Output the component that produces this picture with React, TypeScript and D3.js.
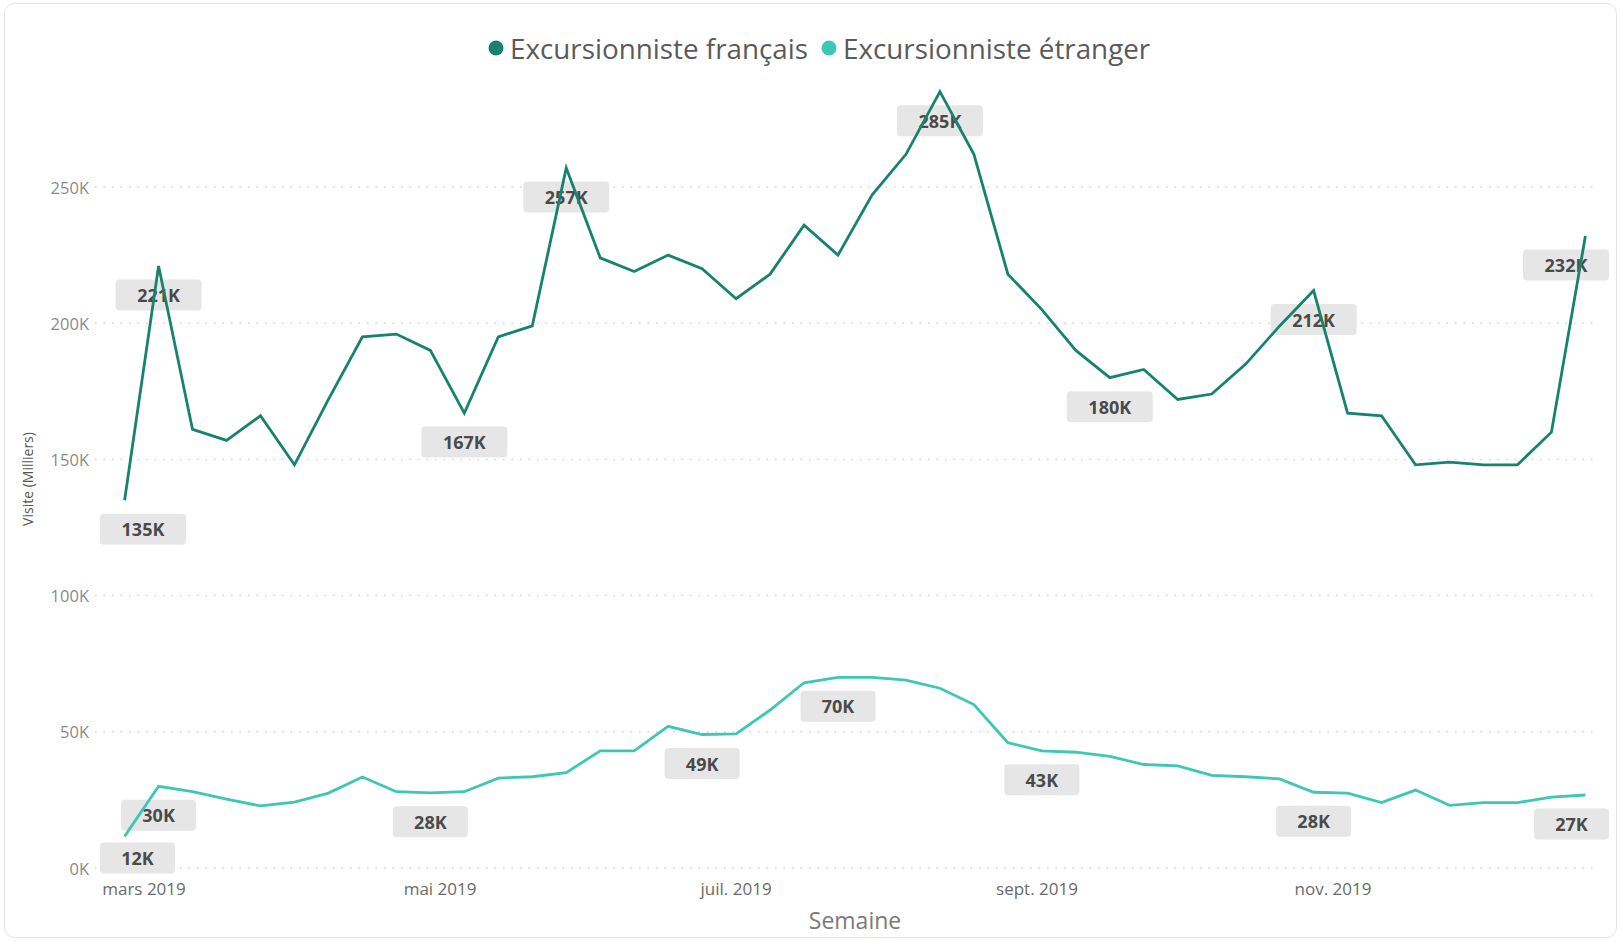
import * as d3 from "d3";

// weekly points, Monday starts
const weeks = d3.timeMonday.range(new Date(2019, 1, 25), new Date(2019, 11, 24));

// visits in thousands
const francais = [
  135, 221, 161, 157, 166, 148, 172, 195, 196, 190, 167, 195, 199, 257, 224,
  219, 225, 220, 209, 218, 236, 225, 247, 262, 285, 262, 218, 205, 190, 180,
  183, 172, 174, 185, 199, 212, 167, 166, 148, 149, 148, 148, 160, 232,
];
const etranger = [
  11.6, 30, 28, 25.3, 22.8, 24.2, 27.5, 33.4, 28, 27.6, 28, 33, 33.5, 35, 43,
  43, 52, 49, 49.2, 58, 68, 70, 70, 69, 66, 60, 46, 43, 42.5, 41,
  38, 37.5, 34, 33.5, 32.7, 27.8, 27.5, 24, 28.6, 23, 24, 24, 26, 26.8,
];
const francaisLabels = [0, 1, 10, 13, 24, 29, 35, 43];
const etrangerLabels = [0, 1, 9, 17, 21, 27, 35, 43];

const yTicks = [0, 50, 100, 150, 200, 250];
const monthTicks = [
  new Date(2019, 2, 1),
  new Date(2019, 4, 1),
  new Date(2019, 6, 1),
  new Date(2019, 8, 1),
  new Date(2019, 10, 1),
];
const monthLabels = ["mars 2019", "mai 2019", "juil. 2019", "sept. 2019", "nov. 2019"];

const seriesNames = ["Excursionniste français", "Excursionniste étranger"];
const colors = ["#17836f", "#3cc8b4"];

const W = 1621;
const H = 941;
const font = "'Open Sans', 'Noto Sans', sans-serif";

export default function App() {
  const x = d3
    .scaleTime()
    .domain([weeks[0], weeks[weeks.length - 1]])
    .range([124.6, 1585.4]);
  const y = d3.scaleLinear().domain([0, 250]).range([868, 187]);
  const plotLeft = 95;
  const plotRight = 1597;

  const line = d3
    .line<number>()
    .x((_, i) => x(weeks[i]))
    .y((d) => y(d));

  const labelBoxes = (vals: number[], idx: number[]) =>
    idx.map((i) => {
      const text = `${Math.round(vals[i])}K`;
      const w = text.length * 11 + 42;
      let cx = x(weeks[i]);
      cx = Math.max(100 + w / 2, Math.min(1609 - w / 2, cx));
      const cy = Math.min(858, y(vals[i]) + 29);
      return (
        <g key={i} transform={`translate(${cx},${cy})`}>
          <rect x={-w / 2} y={-15.5} width={w} height={31} rx={4} fill="#e6e6e6" />
          <text
            textAnchor="middle"
            dominantBaseline="central"
            fontSize={18}
            fontWeight="bold"
            fill="#4a4a4a"
          >
            {text}
          </text>
        </g>
      );
    });

  return (
    <svg
      width={W}
      height={H}
      style={{ position: "absolute", left: 0, top: 0, fontFamily: font }}
    >
      <rect x={0} y={0} width={W} height={H} fill="#fff" />
      <rect x={4.5} y={3.5} width={1612} height={934} rx={10} fill="#fff" stroke="#e4e4e4" />

      {/* legend */}
      <g transform="translate(0,48)">
        <circle cx={496} cy={0} r={7.5} fill={colors[0]} />
        <text x={510} y={0} dominantBaseline="central" fontSize={27.8} fill="#5a5a5a">
          {seriesNames[0]}
        </text>
        <circle cx={829} cy={0} r={7.5} fill={colors[1]} />
        <text x={843} y={0} dominantBaseline="central" fontSize={27.8} fill="#5a5a5a">
          {seriesNames[1]}
        </text>
      </g>

      {/* grid + y axis */}
      {yTicks.map((t) => (
        <g key={t}>
          <line
            x1={plotLeft}
            x2={plotRight}
            y1={y(t)}
            y2={y(t)}
            stroke="#d2d2d2"
            strokeWidth={1.5}
            strokeDasharray="1.5 7"
          />
          <text
            x={89}
            y={y(t)}
            textAnchor="end"
            dominantBaseline="central"
            fontSize={16.5}
            fill="#8a8a8a"
          >
            {`${t}K`}
          </text>
        </g>
      ))}
      <text
        transform="translate(27,479) rotate(-90)"
        textAnchor="middle"
        dominantBaseline="central"
        fontSize={14}
        fill="#555"
      >
        Visite (Milliers)
      </text>

      {/* x axis */}
      {monthTicks.map((d, i) => (
        <text
          key={i}
          x={x(d)}
          y={888}
          textAnchor="middle"
          dominantBaseline="central"
          fontSize={17}
          fill="#6a6a6a"
        >
          {monthLabels[i]}
        </text>
      ))}
      <text
        x={855}
        y={920}
        textAnchor="middle"
        dominantBaseline="central"
        fontSize={23}
        fill="#7a7a7a"
      >
        Semaine
      </text>

      {/* data labels under the lines */}
      {labelBoxes(francais, francaisLabels)}
      {labelBoxes(etranger, etrangerLabels)}

      <path d={line(etranger) ?? ""} fill="none" stroke={colors[1]} strokeWidth={2.8} />
      <path d={line(francais) ?? ""} fill="none" stroke={colors[0]} strokeWidth={2.8} />
    </svg>
  );
}
